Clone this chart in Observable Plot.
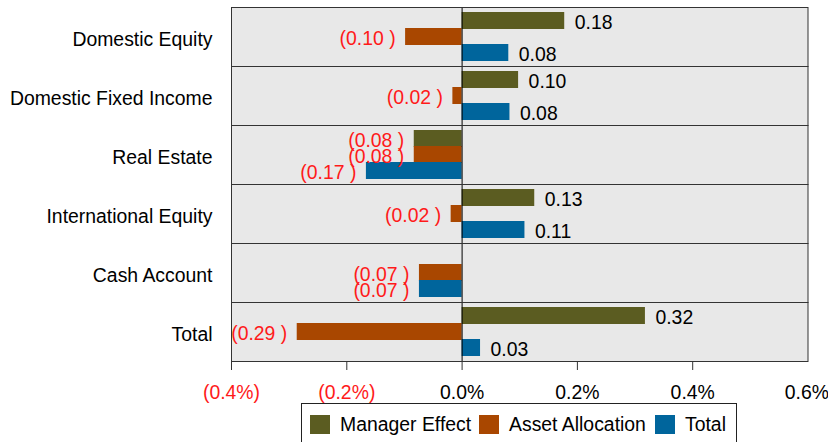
<!DOCTYPE html>
<html>
<head>
<meta charset="utf-8">
<script src="https://cdn.jsdelivr.net/npm/d3@7"></script>
<script src="https://cdn.jsdelivr.net/npm/@observablehq/plot@0.6"></script>
<style>
  html, body { margin: 0; padding: 0; background: #fff; overflow: hidden; }
  body { width: 828px; height: 442px; position: relative; font-family: "Liberation Sans", Arial, sans-serif; }
  #chart svg { display: block; overflow: visible; }
  #legend {
    position: absolute; left: 301px; top: 403px; width: 436px; height: 60px;
    border: 1px solid #222; box-sizing: border-box; background: #fff;
  }
  .item { position: absolute; top: 9px; display: flex; align-items: center; font-size: 19.4px; color: #000; }
  .sw { width: 20px; height: 19px; margin-right: 10px; }
</style>
</head>
<body>
<div id="chart"></div>
<div id="legend"></div>
<script>
const categories = ["Domestic Equity", "Domestic Fixed Income", "Real Estate", "International Equity", "Cash Account", "Total"];
const series = ["Manager Effect", "Asset Allocation", "Total"];
const managerEffect   = [0.178, 0.098, -0.083, 0.126, null, 0.318];
const assetAllocation = [-0.098, -0.016, -0.083, -0.019, -0.074, -0.286];
const totalEffect     = [0.081, 0.083, -0.166, 0.109, -0.074, 0.032];
const xTicksNeg = [-0.4, -0.2];
const xTicksPos = [0, 0.2, 0.4];
const xTickLast = [0.6];
const colors = ["#5b5c21", "#a94700", "#00659c"];

const seriesValues = [managerEffect, assetAllocation, totalEffect];
const rows = [];
categories.forEach((c, i) => {
  series.forEach((s, j) => {
    const v = seriesValues[j][i];
    if (v != null) rows.push({category: c, series: s, value: v});
  });
});

const font = "Liberation Sans, Arial, sans-serif";
const fs = 19.4;
const pctFmt = d => `${d.toFixed(1)}%`;
const chart = Plot.plot({
  width: 828,
  height: 403,
  marginLeft: 231,
  marginRight: 20.5,
  marginTop: 6.5,
  marginBottom: 41.5,
  style: {fontFamily: font, fontSize: fs + "px", background: "transparent", overflow: "visible"},
  x: {domain: [-0.4, 0.6], axis: null},
  y: {domain: series, axis: null, padding: 0, insetTop: 4.5, insetBottom: 4.5},
  fy: {domain: categories, padding: 0, label: null, axis: null},
  color: {domain: series, range: colors},
  marks: [
    Plot.frame({fill: "#e8e8e8"}),
    Plot.barX(rows, {x: "value", y: "series", fy: "category", fill: "series", insetTop: -0.5, insetBottom: -0.5}),
    Plot.ruleX([0], {stroke: "#000", strokeWidth: 1}),
    Plot.frame({stroke: "#333", strokeWidth: 1}),
    Plot.text(rows.filter(d => d.value >= 0), {
      x: "value", y: "series", fy: "category",
      text: d => d.value.toFixed(2), textAnchor: "start", dx: 10, dy: 1.5,
      fill: "#000", fontSize: fs, fontFamily: font
    }),
    Plot.text(rows.filter(d => d.value < 0), {
      x: "value", y: "series", fy: "category",
      text: d => `(${(-d.value).toFixed(2)} )`, textAnchor: "end", dx: -10, dy: 1.5,
      fill: "#ff1a1a", fontSize: fs, fontFamily: font
    }),
    Plot.axisX({
      ticks: xTicksNeg, tickFormat: d => `(${(-d).toFixed(1)}%)`,
      tickSize: 9, tickPadding: 15, label: null, fill: "#ff1a1a", stroke: "#333",
      fontSize: fs, fontFamily: font
    }),
    Plot.axisX({
      ticks: xTicksPos, tickFormat: pctFmt,
      tickSize: 9, tickPadding: 15, label: null, fill: "#000", stroke: "#333",
      fontSize: fs, fontFamily: font
    }),
    Plot.axisX({
      ticks: xTickLast, tickFormat: pctFmt,
      tickSize: 9, tickPadding: 15, label: null, fill: "#000", stroke: "#333",
      fontSize: fs, fontFamily: font, textAnchor: "end", dx: 21
    }),
    Plot.axisFy({
      anchor: "left", tickSize: 0, tickPadding: 19, dy: 3, label: null, fill: "#000",
      fontSize: fs, fontFamily: font
    })
  ]
});
document.getElementById("chart").appendChild(chart);

// Legend
const legend = document.getElementById("legend");
const lefts = [8, 177, 353];
series.forEach((s, i) => {
  const item = document.createElement("div");
  item.className = "item";
  item.style.left = lefts[i] + "px";
  const sw = document.createElement("div");
  sw.className = "sw";
  sw.style.background = colors[i];
  const t = document.createElement("span");
  t.textContent = s;
  item.appendChild(sw);
  item.appendChild(t);
  legend.appendChild(item);
});
</script>
</body>
</html>
